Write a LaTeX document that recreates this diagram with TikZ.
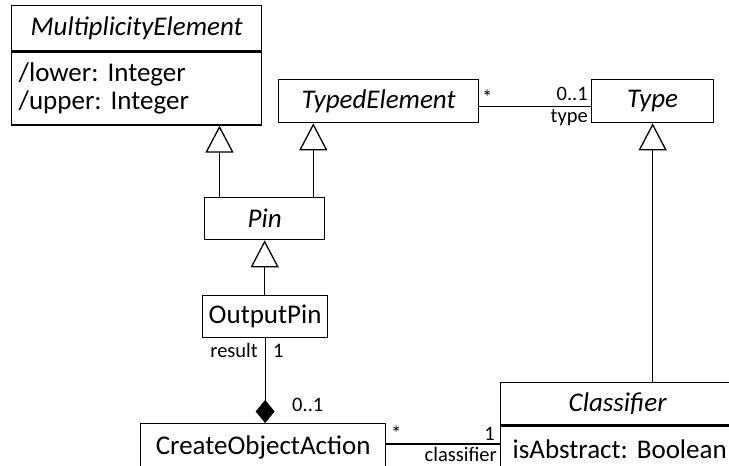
\documentclass[tikz,border=0pt]{standalone}
\usepackage{fontspec}
\setmainfont{Carlito}
\usetikzlibrary{arrows.meta}
\frenchspacing
\begin{document}
\begin{tikzpicture}[x=1pt,y=-1pt,
  umlbox/.style={draw, line width=1.3pt, rectangle, inner sep=0pt, anchor=north west,
    font=\fontsize{27}{32}\selectfont},
  cname/.style={umlbox, font=\fontsize{27}{32}\selectfont\itshape},
  attrs/.style={umlbox, align=left, inner xsep=7pt, font=\fontsize{27}{28}\selectfont},
  lbl/.style={font=\fontsize{20.5}{24}\selectfont, inner sep=0pt},
  gen/.style={line width=1.3pt, -{Triangle[open,width=28pt,length=27pt,line width=1.3pt]}},
  assoc/.style={line width=1.3pt},
  comp/.style={line width=1.3pt, {Diamond[width=19pt,length=23pt]}-},
]
\useasboundingbox (0,0) rectangle (729,466);
\clip (0,0) rectangle (729,466);

% classes
\node[cname, minimum width=250pt, minimum height=45pt] (me) at (11,5) {MultiplicityElement};
\node[attrs, text width=236pt, minimum height=73pt] (meattr) at (me.south west)
  {/lower: Integer\\/upper: Integer};
\node[cname, minimum width=200pt, minimum height=43pt] (te) at (278,79) {TypedElement};
\node[cname, minimum width=122pt, minimum height=43pt] (type) at (591,79) {Type};
\node[cname, minimum width=120pt, minimum height=42pt] (pin) at (204,197) {Pin};
\node[umlbox, minimum width=125pt, minimum height=42pt] (opin) at (202,295) {OutputPin};
\node[umlbox, minimum width=245pt, minimum height=48pt] (coa) at (140,423) {CreateObjectAction};
\node[cname, minimum width=234pt, minimum height=42pt] (cls) at (500,382) {Classifier};
\node[attrs, inner xsep=12pt, text width=222pt, minimum height=46pt] (clsattr) at (cls.south west)
  {isAbstract: Boolean};

% generalizations
\draw[gen] ([xshift=15.5pt]pin.north west) -- ([xshift=15.5pt]pin.north west |- meattr.south);
\draw[gen] ([xshift=-12pt]pin.north east) -- ([xshift=-12pt]pin.north east |- te.south);
\draw[gen] (opin.north -| pin.south) -- (pin.south);
\draw[gen] (cls.north -| type.south) -- (type.south);

% composition and associations
\draw[comp] (opin.south |- coa.north) -- (opin.south);
\draw[assoc] ([yshift=-5pt]te.east) -- ([yshift=-5pt]te.east -| type.west);
\draw[assoc] ([yshift=-21pt]coa.north east) -- ([yshift=-21pt]coa.north east -| cls.west);

% association end labels
\node[lbl, anchor=base west] (tstar) at (482,104) {*};
\node[lbl, anchor=base east] (tmult) at (588,100) {0..1};
\node[lbl, anchor=base east] (trole) at (588,122) {type};
\node[lbl, anchor=base east] (rrole) at (258,357) {result};
\node[lbl, anchor=base west] (rmult) at (273,357) {1};
\node[lbl, anchor=base west] (cmult) at (292,411) {0..1};
\node[lbl, anchor=base west] (cstar) at (391,440) {*};
\node[lbl, anchor=base east] (clmult) at (495,440) {1};
\node[lbl, anchor=base east] (clrole) at (497,461) {classifier};
\end{tikzpicture}
\end{document}
